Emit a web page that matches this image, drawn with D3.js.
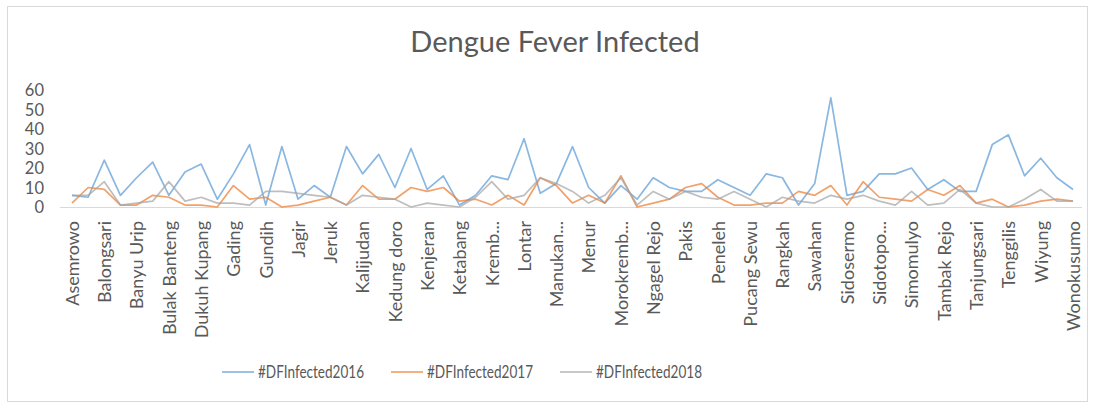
<!DOCTYPE html>
<html>
<head>
<meta charset="utf-8">
<script src="https://cdn.jsdelivr.net/npm/d3@7"></script>
<style>
  html, body { margin: 0; padding: 0; background: #ffffff; }
  svg { display: block; }
  text { font-family: Lato, "Open Sans", "Liberation Sans", sans-serif; fill: #595959; }
</style>
</head>
<body>
<svg id="chart" width="1094" height="407"></svg>
<script>
const title = "Dengue Fever Infected";

const categories = [
  "Asemrowo","Balas Klumprik","Balongsari","Bangkingan","Banyu Urip","Benowo",
  "Bulak Banteng","Dr. Soetomo","Dukuh Kupang","Dupak","Gading","Gayungan",
  "Gundih","Gunung Anyar","Jagir","Jemursari","Jeruk","Kali Kedinding",
  "Kalijudan","Kalirungkut","Kedung doro","Kedurus","Kenjeran","Keputih",
  "Ketabang","Klampis Ngasem","Krembangan Selatan","Lidah Kulon","Lontar","Made",
  "Manukan Kulon","Medokan Ayu","Menur","Mojo","Morokrembangan","Mulyorejo",
  "Ngagel Rejo","Pacar Keling","Pakis","Pegirian","Peneleh","Perak Timur",
  "Pucang Sewu","Putat Jaya","Rangkah","Sawah Pulo","Sawahan","Sememi",
  "Sidosermo","Sidotopo","Sidotopo Wetan","Simolawang","Simomulyo","Siwalankerto",
  "Tambak Rejo","Tambak Wedi","Tanjungsari","Tembok Dukuh","Tenggilis","Urip Sumoharjo",
  "Wiyung","Wonokromo","Wonokusumo"
];

// text shown under every second category, as in the picture
const tickLabels = [
  "Asemrowo","Balongsari","Banyu Urip","Bulak Banteng","Dukuh Kupang","Gading",
  "Gundih","Jagir","Jeruk","Kalijudan","Kedung doro","Kenjeran","Ketabang",
  "Kremb...","Lontar","Manukan...","Menur","Morokremb...","Ngagel Rejo","Pakis",
  "Peneleh","Pucang Sewu","Rangkah","Sawahan","Sidosermo","Sidotopo...",
  "Simomulyo","Tambak Rejo","Tanjungsari","Tenggilis","Wiyung","Wonokusumo"
];

const infected2016 = [
  6,5,24,6,15,23,6,18,22,4,17,32,1,31,4,11,5,31,17,27,10,30,9,16,1,6,16,14,35,7,
  12,31,10,2,11,4,15,10,8,8,14,10,6,17,15,1,12,56,6,8,17,17,20,9,14,8,8,32,37,16,
  25,15,9
];
const infected2017 = [
  2,10,9,1,1,6,5,1,1,0,11,4,5,0,1,3,5,1,11,4,4,10,8,10,3,4,1,6,1,15,
  11,2,6,2,16,0,2,4,10,12,5,1,1,2,2,8,6,11,1,13,5,4,3,9,6,11,2,4,0,1,
  3,4,3
];
const infected2018 = [
  6,6,13,1,2,3,13,3,5,2,2,1,8,8,7,6,5,1,6,5,4,0,2,1,0,5,13,4,6,15,
  12,8,2,6,15,1,8,4,8,5,4,8,4,0,5,3,2,6,4,6,3,1,8,1,2,9,2,0,0,4,
  9,3,3
];

const seriesNames = ["#DFInfected2016", "#DFInfected2017", "#DFInfected2018"];
const seriesColors = ["#5b9bd5", "#ed7d31", "#a5a5a5"];
const yTicks = [0, 10, 20, 30, 40, 50, 60];

const seriesValues = [infected2016, infected2017, infected2018];

const svg = d3.select("#chart");

// outer frame
svg.append("rect")
  .attr("x", 7.5).attr("y", 6.5)
  .attr("width", 1080).attr("height", 395)
  .attr("fill", "#ffffff")
  .attr("stroke", "#d9d9d9").attr("stroke-width", 1);

// title
svg.append("text")
  .attr("x", 555).attr("y", 52)
  .attr("text-anchor", "middle")
  .style("font-size", "29px")
  .text(title);

const x = d3.scalePoint().domain(categories).range([72, 1073]);
const y = d3.scaleLinear().domain([0, 60]).range([207, 90]);

// y axis labels
const yAxis = d3.axisLeft(y).tickValues(yTicks).tickSize(0).tickPadding(0);
const yg = svg.append("g").attr("transform", "translate(44,0)").call(yAxis);
yg.select(".domain").remove();
yg.selectAll("text")
  .style("font-size", "16.5px")
  .style("font-family", "Lato, 'Open Sans', sans-serif")
  .attr("fill", "#595959")
  .attr("dy", "0.36em");

// x axis
const labelByCat = new Map();
categories.forEach((c, i) => { if (i % 2 === 0) labelByCat.set(c, tickLabels[i / 2]); });
const xAxis = d3.axisBottom(x).tickSize(0).tickPadding(0)
  .tickFormat(c => labelByCat.has(c) ? labelByCat.get(c) : "");
const xg = svg.append("g").attr("transform", `translate(0,${y(0)})`).call(xAxis);
xg.select(".domain")
  .attr("d", `M60,0.5H1082`)
  .attr("stroke", "#d9d9d9").attr("stroke-width", 1.2);
xg.selectAll("text")
  .style("font-size", "18px")
  .style("font-family", "Lato, 'Open Sans', sans-serif")
  .attr("fill", "#595959")
  .attr("text-anchor", "end")
  .attr("transform", "rotate(-90)")
  .attr("x", -14)
  .attr("y", 0)
  .attr("dy", "0.35em");

// lines
const line = d3.line()
  .x((d, i) => x(categories[i]))
  .y(d => y(d));

seriesValues.forEach((vals, k) => {
  svg.append("path")
    .datum(vals)
    .attr("fill", "none")
    .attr("stroke", seriesColors[k])
    .attr("stroke-width", 1.7)
    .attr("stroke-opacity", 0.72)
    .attr("stroke-linejoin", "round")
    .attr("d", line);
});

// legend
const legendX = [222, 391, 560];
seriesNames.forEach((name, k) => {
  const g = svg.append("g").attr("transform", `translate(${legendX[k]},372)`);
  g.append("line")
    .attr("x1", 0).attr("x2", 32).attr("y1", 0).attr("y2", 0)
    .attr("stroke", seriesColors[k]).attr("stroke-width", 1.7).attr("stroke-opacity", 0.72);
  g.append("text")
    .attr("x", 36).attr("y", 0).attr("dy", "0.36em")
    .style("font-size", "16.5px")
    .attr("textLength", 106)
    .attr("lengthAdjust", "spacingAndGlyphs")
    .text(name);
});
</script>
</body>
</html>
